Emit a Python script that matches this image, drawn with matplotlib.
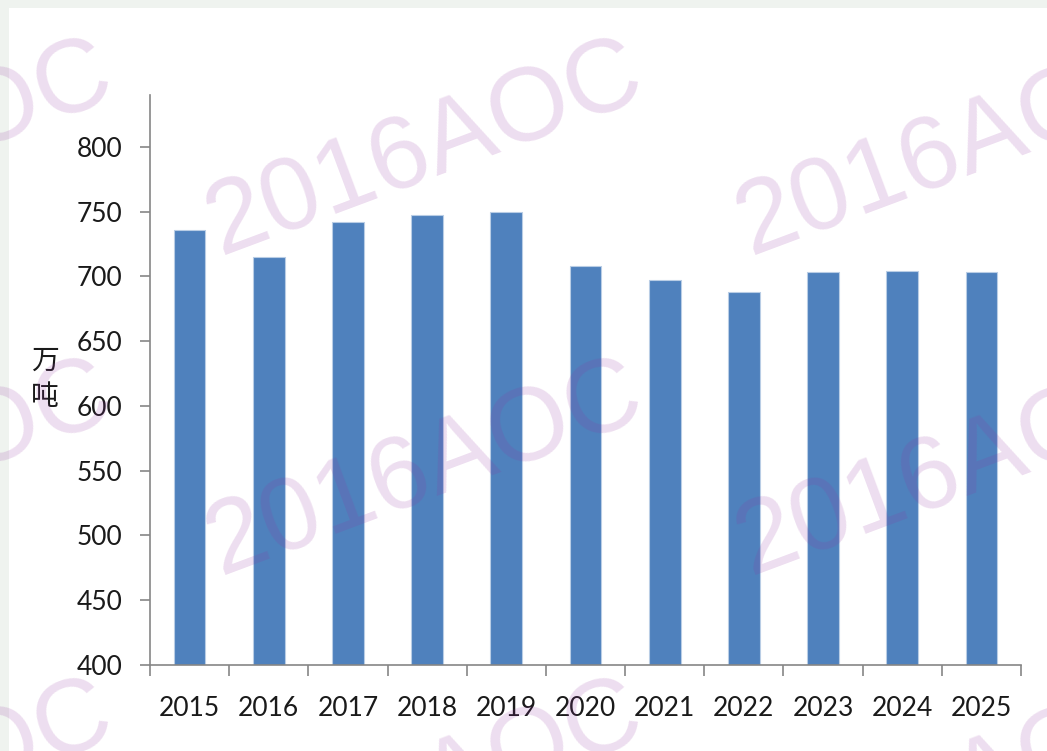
import matplotlib
matplotlib.use("Agg")
import matplotlib.pyplot as plt
from matplotlib.patches import Rectangle

# data
years = ["2015", "2016", "2017", "2018", "2019", "2020",
         "2021", "2022", "2023", "2024", "2025"]
output = [736, 715, 742, 747, 750, 708, 697, 688, 703, 704, 703]
y_ticks = [400, 450, 500, 550, 600, 650, 700, 750, 800]
unit_label = "万\n吨"
watermark = "2016AOC"

W, H, DPI = 1047, 751, 100
fig = plt.figure(figsize=(W / DPI, H / DPI), dpi=DPI, facecolor="white")

# thin tinted frame on the top and left edges
frame_col = "#eff3ef"
fig.patches.append(Rectangle((0, 1 - 8 / H), 1, 8 / H, transform=fig.transFigure,
                             facecolor=frame_col, edgecolor="none", zorder=0))
fig.patches.append(Rectangle((0, 0), 9 / W, 1, transform=fig.transFigure,
                             facecolor=frame_col, edgecolor="none", zorder=0))

ax = fig.add_axes([150 / W, 1 - 665 / H, (1021 - 150) / W, (665 - 95) / H])
ax.set_facecolor("none")

x = list(range(len(years)))
ax.bar(x, output, width=0.40, bottom=0, color="#4f81bd",
       edgecolor="#b9cde5", linewidth=0.8, zorder=2)

ax.set_xlim(-0.5, len(years) - 0.5)
ax.set_ylim(400, 840)

axis_col = "#868686"
for s in ["top", "right"]:
    ax.spines[s].set_visible(False)
for s in ["left", "bottom"]:
    ax.spines[s].set_color(axis_col)
    ax.spines[s].set_linewidth(1.2)

tick_font = "Lato"
ax.set_yticks(y_ticks)
ax.set_yticklabels([str(v) for v in y_ticks], fontsize=19, family=tick_font,
                   color="#1a1a1a")
ax.tick_params(axis="y", length=7, width=1.2, color=axis_col, pad=13)

# category boundaries get the tick marks, labels sit in the middle
ax.set_xticks([i - 0.5 for i in range(len(years) + 1)])
ax.set_xticklabels([])
ax.tick_params(axis="x", which="major", length=8, width=1.2, color=axis_col)
ax.set_xticks(x, minor=True)
ax.set_xticklabels(years, minor=True, fontsize=19, family=tick_font,
                   color="#1a1a1a")
ax.tick_params(axis="x", which="minor", length=0, pad=22)

fig.text(45 / W, 1 - 379 / H, unit_label, ha="center", va="center",
         fontsize=20, family=["Noto Sans CJK SC", "DejaVu Sans"],
         linespacing=1.3, color="#1a1a1a")

# tiled watermark on top of everything
for wx in [-310, 220, 750]:
    for wy in [255, 575, 895]:
        fig.text(wx / W, 1 - wy / H, watermark, ha="left", va="baseline",
                 rotation=20.5, rotation_mode="anchor", fontsize=75,
                 family="Liberation Sans", color=(146 / 255, 50 / 255, 160 / 255),
                 alpha=0.16, zorder=10)

fig.savefig("out.png", dpi=DPI, facecolor="white")
